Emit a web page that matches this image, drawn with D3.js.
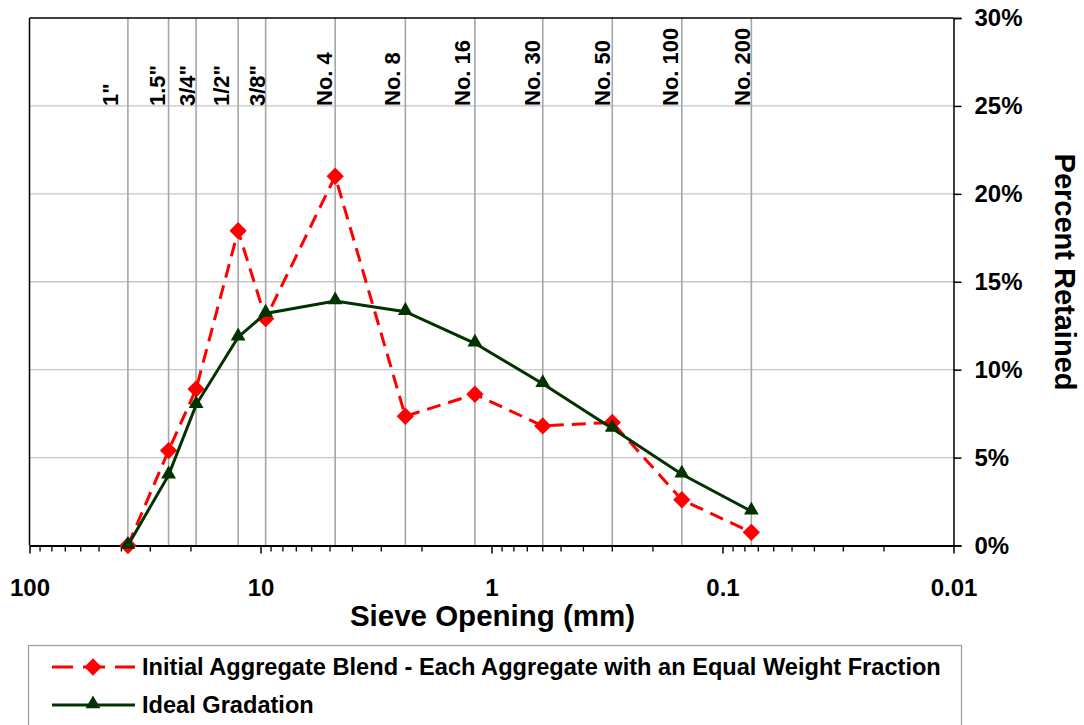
<!DOCTYPE html>
<html>
<head>
<meta charset="utf-8">
<script src="https://cdn.jsdelivr.net/npm/d3@7"></script>
<style>
  html, body { margin: 0; padding: 0; background: #fff; }
  svg { display: block; font-family: "Liberation Sans", Arial, sans-serif; font-weight: bold; }
</style>
</head>
<body>
<svg id="chart" width="1084" height="725"></svg>
<script>
// ---- data ----
const sieveSizes = [37.5, 25, 19, 12.5, 9.5, 4.75, 2.36, 1.18, 0.6, 0.3, 0.15, 0.075];
const sieveLabels = ['1"', '1.5"', '3/4"', '1/2"', '3/8"', 'No. 4', 'No. 8', 'No. 16', 'No. 30', 'No. 50', 'No. 100', 'No. 200'];
const sieveLabelAt = [41.4, 25.9, 19.2, 13.7, 9.56, 4.90, 2.49, 1.24, 0.617, 0.307, 0.156, 0.076];
const initialBlend = [0, 5.4, 8.9, 17.9, 12.9, 21.0, 7.35, 8.6, 6.8, 7.0, 2.6, 0.75];
const idealGradation = [0, 4.0, 8.0, 11.85, 13.2, 13.9, 13.3, 11.5, 9.2, 6.65, 4.05, 1.95];
const xMajorTicks = [100, 10, 1, 0.1, 0.01];
const yTicks = [0, 5, 10, 15, 20, 25, 30];
const seriesNames = ["Initial Aggregate Blend - Each Aggregate with an Equal Weight Fraction", "Ideal Gradation"];

// ---- layout ----
const L = 29.5, R = 953.5, T = 18, B = 545.5;
const svg = d3.select("#chart");
const x = d3.scaleLog().domain([100, 0.01]).range([L, R]);
const y = d3.scaleLinear().domain([0, 30]).range([B, T]);
const FONT = "Liberation Sans, Arial, sans-serif";

// horizontal gridlines
svg.append("g").selectAll("line").data(yTicks.filter(d => d > 0 && d < 30)).join("line")
  .attr("x1", L).attr("x2", R).attr("y1", d => y(d)).attr("y2", d => y(d))
  .attr("stroke", "#c6c6c6").attr("stroke-width", 1.3);

// sieve vertical lines
svg.append("g").selectAll("line").data(sieveSizes).join("line")
  .attr("x1", d => x(d)).attr("x2", d => x(d)).attr("y1", T).attr("y2", B)
  .attr("stroke", "#a6a6a6").attr("stroke-width", 1.6);

// sieve labels
svg.append("g").selectAll("text").data(sieveLabels).join("text")
  .attr("transform", (d, i) => `translate(${x(sieveLabelAt[i])},106) rotate(-90)`)
  .attr("text-anchor", "start")
  .attr("font-size", 22).attr("fill", "#000")
  .text(d => d);

// frame: top and left
svg.append("line").attr("x1", L).attr("x2", R).attr("y1", T).attr("y2", T).attr("stroke", "#000").attr("stroke-width", 1.5);
svg.append("line").attr("x1", L).attr("x2", L).attr("y1", T).attr("y2", B).attr("stroke", "#000").attr("stroke-width", 1.5);

// right axis
const yAxis = d3.axisRight(y).tickValues(yTicks).tickFormat(d => d + "%").tickSize(8).tickPadding(13);
const gy = svg.append("g").attr("transform", `translate(${R},0)`).call(yAxis);
gy.select(".domain").attr("stroke", "#000").attr("stroke-width", 1.5);
gy.selectAll(".tick line").attr("stroke", "#000").attr("stroke-width", 1.5);
gy.selectAll(".tick text").attr("font-size", 24).attr("font-family", FONT).attr("font-weight", "bold").attr("fill", "#000");

// bottom axis (major)
const xAxis = d3.axisBottom(x).tickValues(xMajorTicks).tickFormat(d => String(d)).tickSize(8).tickPadding(25).tickSizeOuter(0);
const gx = svg.append("g").attr("transform", `translate(0,${B})`).call(xAxis);
gx.select(".domain").attr("stroke", "#000").attr("stroke-width", 2);
gx.selectAll(".tick line").attr("stroke", "#000").attr("stroke-width", 1.5);
gx.selectAll(".tick text").attr("font-size", 24).attr("font-family", FONT).attr("font-weight", "bold").attr("fill", "#000");

// minor ticks
const minor = [];
xMajorTicks.slice(1).forEach(dec => { for (let k = 2; k <= 9; k++) minor.push(dec * k); });
svg.append("g").selectAll("line").data(minor).join("line")
  .attr("x1", d => x(d)).attr("x2", d => x(d)).attr("y1", B).attr("y2", B + 6)
  .attr("stroke", "#000").attr("stroke-width", 1.3);

// axis titles
svg.append("text").attr("x", (L + R) / 2 + 1).attr("y", 626).attr("text-anchor", "middle")
  .attr("font-size", 29.5).attr("fill", "#000").text("Sieve Opening (mm)");
svg.append("text").attr("transform", `translate(1055,272) rotate(90)`).attr("text-anchor", "middle")
  .attr("font-size", 29).attr("fill", "#000").text("Percent Retained");

// series
const line = d3.line().x((d, i) => x(sieveSizes[i])).y(d => y(d));
const diamond = d3.symbol().type(d3.symbolSquare).size(150);
const triangle = d3.symbol().type(d3.symbolTriangle).size(95);

const red = "#ff0000", green = "#003300";

svg.append("path").datum(initialBlend).attr("d", line)
  .attr("fill", "none").attr("stroke", red).attr("stroke-width", 3).attr("stroke-dasharray", "14,8");
svg.append("g").selectAll("path").data(initialBlend).join("path")
  .attr("d", diamond).attr("transform", (d, i) => `translate(${x(sieveSizes[i])},${y(d)}) rotate(45)`)
  .attr("fill", red);

svg.append("path").datum(idealGradation).attr("d", line)
  .attr("fill", "none").attr("stroke", green).attr("stroke-width", 3);
svg.append("g").selectAll("path").data(idealGradation).join("path")
  .attr("d", triangle).attr("transform", (d, i) => `translate(${x(sieveSizes[i])},${y(d) - 1})`)
  .attr("fill", green);

// legend
const lg = svg.append("g");
lg.append("rect").attr("x", 28.5).attr("y", 645.5).attr("width", 933).attr("height", 100)
  .attr("fill", "#fff").attr("stroke", "#a0a0a0").attr("stroke-width", 1.3);
const rows = [667, 705];
lg.append("line").attr("x1", 52).attr("x2", 135).attr("y1", rows[0]).attr("y2", rows[0])
  .attr("stroke", red).attr("stroke-width", 3).attr("stroke-dasharray", "21,10,22,10,21");
lg.append("path").attr("d", diamond).attr("transform", `translate(93,${rows[0]}) rotate(45)`).attr("fill", red);
lg.append("line").attr("x1", 52).attr("x2", 135).attr("y1", rows[1]).attr("y2", rows[1])
  .attr("stroke", green).attr("stroke-width", 3);
lg.append("path").attr("d", triangle).attr("transform", `translate(93,${rows[1] - 1})`).attr("fill", green);
lg.selectAll("text").data(seriesNames).join("text")
  .attr("x", 142).attr("y", (d, i) => rows[i] + 8)
  .attr("font-size", 23.6).attr("fill", "#000").text(d => d);
</script>
</body>
</html>
